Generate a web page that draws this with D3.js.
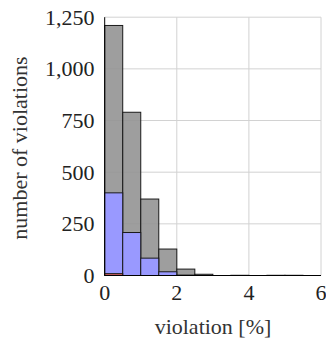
<!DOCTYPE html>
<html><head><meta charset="utf-8">
<script src="https://cdn.jsdelivr.net/npm/d3@7"></script>
<style>body{margin:0;background:#fff}svg{display:block}</style>
</head><body>
<svg id="c" width="326" height="344"></svg>
<script>
const binStarts = [0, 0.5, 1, 1.5, 2, 2.5, 3, 3.5, 4, 4.5, 5, 5.5];
const binWidth = 0.5;
const allCounts  = [1210, 790, 370, 128, 31, 6, 0, 1, 0, 1, 1, 0];
const blueCounts = [400, 208, 84, 18, 2, 0, 0, 0, 0, 0, 0, 0];
const redCounts  = [9, 0, 0, 0, 0, 0, 0, 0, 0, 0, 0, 0];
const xTicks = [0, 2, 4, 6];
const yTicks = [0, 250, 500, 750, 1000, 1250];

const FONT = "'Liberation Serif', 'Times New Roman', Times, serif";
const FS = 22;
const svg = d3.select("#c");
const L = 104.7, R = 321, T = 17.2, B = 275.5;
const x = d3.scaleLinear().domain([0, 6]).range([L, R]);
const y = d3.scaleLinear().domain([0, 1250]).range([B, T]);

const g = svg.append("g");
g.selectAll("line.gx").data(xTicks.filter(d => d > 0)).enter().append("line")
  .attr("x1", d => x(d)).attr("x2", d => x(d)).attr("y1", T).attr("y2", B)
  .attr("stroke", "#d2d2d2").attr("stroke-width", 1);
g.selectAll("line.gy").data(yTicks.filter(d => d > 0)).enter().append("line")
  .attr("x1", L).attr("x2", R).attr("y1", d => y(d)).attr("y2", d => y(d))
  .attr("stroke", "#d2d2d2").attr("stroke-width", 1);

function bars(vals, fill, op) {
  svg.append("g").selectAll("rect").data(binStarts.map((s, i) => ({s, v: vals[i]})).filter(d => d.v > 0))
    .enter().append("rect")
    .attr("x", d => x(d.s)).attr("width", x(binWidth) - x(0))
    .attr("y", d => y(d.v)).attr("height", d => y(0) - y(d.v))
    .attr("fill", fill).attr("fill-opacity", op)
    .attr("stroke", "#1a1a1a").attr("stroke-width", 1);
}
bars(allCounts, "#939393", 0.9);
bars(blueCounts, "#9999ff", 1);
bars(redCounts, "#d06060", 1);

svg.append("line").attr("x1", L).attr("x2", L).attr("y1", T).attr("y2", B).attr("stroke", "#000").attr("stroke-width", 1);
svg.append("line").attr("x1", L).attr("x2", R).attr("y1", B).attr("y2", B).attr("stroke", "#000").attr("stroke-width", 1);

const fmt = d3.format(",");
svg.append("g").selectAll("text").data(yTicks).enter().append("text")
  .attr("x", 94.5).attr("y", d => y(d) + 7.5).attr("text-anchor", "end")
  .attr("font-family", FONT).attr("font-size", FS).attr("fill", "#222").text(d => fmt(d));
svg.append("g").selectAll("text").data(xTicks).enter().append("text")
  .attr("x", d => x(d)).attr("y", 300).attr("text-anchor", "middle")
  .attr("font-family", FONT).attr("font-size", FS).attr("fill", "#222").text(d => d);

svg.append("text").attr("transform", "translate(27,148) rotate(-90)")
  .attr("text-anchor", "middle").attr("font-family", FONT).attr("font-size", FS).attr("fill", "#333").text("number of violations");
svg.append("text").attr("x", 213).attr("y", 334).attr("text-anchor", "middle")
  .attr("font-family", FONT).attr("font-size", FS).attr("fill", "#333").text("violation [%]");
</script>
</body></html>
